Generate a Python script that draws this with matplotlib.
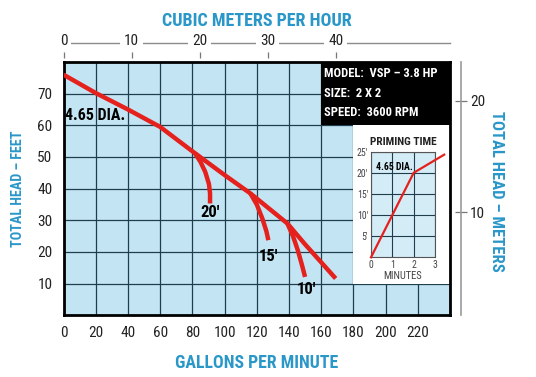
import matplotlib
matplotlib.use("Agg")
import matplotlib.pyplot as plt
from matplotlib.patches import Rectangle
from matplotlib.lines import Line2D

plt.rcParams['font.family'] = ['Liberation Sans Narrow', 'Roboto Condensed', 'Liberation Sans', 'DejaVu Sans']

# ---- data ----
gpm_ticks = [0, 20, 40, 60, 80, 100, 120, 140, 160, 180, 200, 220]
feet_ticks = [10, 20, 30, 40, 50, 60, 70]
cmh_ticks = [0, 10, 20, 30, 40]
meter_ticks = [10, 20]

main_gpm = [0, 20, 40, 60, 80, 100, 116, 139, 150, 169]
main_ft = [76, 70.2, 65, 59.5, 51.8, 44.3, 38.5, 29, 22.4, 11.6]

lift20_gpm = [81.7, 85, 88, 90.3, 91, 91]
lift20_ft = [51.1, 48.5, 45.3, 41.5, 38.5, 35.3]
lift15_gpm = [116, 120, 123.5, 126, 127.2]
lift15_ft = [38.5, 35, 30.5, 26.5, 23.7]
lift10_gpm = [139, 142.5, 145.5, 148, 150]
lift10_ft = [29, 25, 20.5, 16, 12.1]

lift_labels = ["20'", "15'", "10'"]
lift_label_gpm = [91, 127.2, 151]
lift_label_ft = [32.6, 18.5, 8]

prime_min = [0, 1, 2, 3.43]
prime_ft = [0, 10, 20, 24.3]
prime_xticks = [0, 1, 2, 3]
prime_yticks = [5, 10, 15, 20, 25]

spec_lines = ["MODEL:  VSP \u2013 3.8 HP", "SIZE:  2 X 2", "SPEED:  3600 RPM"]

# ---- style ----
BLUE = '#2a97c9'
BG = '#c3e4f2'
GRID = '#1f3d4c'
RED = '#e5211d'
W, H = 536, 377

fig = plt.figure(figsize=(W / 100, H / 100), dpi=100)
fig.patch.set_facecolor('white')

L, R, T, B = 63.5, 450, 62, 315.2
ax = fig.add_axes([L / W, 1 - B / H, (R - L) / W, (B - T) / H])
ax.set_facecolor(BG)
ax.set_xlim(0, 240)
ax.set_ylim(0, 80)
ax.set_xticks(gpm_ticks)
ax.set_xticklabels([str(v) for v in gpm_ticks])
ax.set_yticks(feet_ticks)
ax.set_yticklabels([str(v) for v in feet_ticks])
ax.set_xticks([240], minor=True)
ax.tick_params(axis='both', which='both', length=0, labelsize=11, colors='#222222')
ax.tick_params(axis='x', pad=8)
ax.tick_params(axis='y', pad=8)
ax.set_axisbelow(True)
ax.grid(True, which='both', color=GRID, lw=0.9)
for s in ax.spines.values():
    s.set_color('black')
    s.set_linewidth(2)

# boxes
ax.add_patch(Rectangle((160, 60), 80, 20, facecolor='black', edgecolor='none', zorder=1))
ax.add_patch(Rectangle((180, 10), 60, 50, facecolor='white', edgecolor='none', zorder=1))
for i, t in enumerate(spec_lines):
    ax.text(161.5, 76.4 - i * 6.2, t, color='white', fontsize=9, fontweight='bold',
            va='center', ha='left', zorder=4)

# curves
ax.plot(main_gpm, main_ft, color=RED, lw=3.2, solid_capstyle='butt', zorder=3)
for gx, fy in [(lift20_gpm, lift20_ft), (lift15_gpm, lift15_ft), (lift10_gpm, lift10_ft)]:
    ax.plot(gx, fy, color=RED, lw=3.2, solid_capstyle='butt', zorder=3)
for t, gx, fy in zip(lift_labels, lift_label_gpm, lift_label_ft):
    ax.text(gx, fy, t, fontsize=12, fontweight='bold', ha='center', va='center', zorder=4)
ax.text(1.2, 63.2, '4.65 DIA.', fontsize=11.5, fontweight='bold', ha='left', va='center', zorder=4)

# top axis (cubic meters per hour)
axt = ax.twiny()
axt.set_xlim(0, 56.8)
axt.set_xticks(cmh_ticks)
axt.set_xticklabels([str(v) for v in cmh_ticks])
for s in axt.spines.values():
    s.set_visible(False)
axt.spines['top'].set_position(('outward', 3))
axt.tick_params(axis='x', direction='out', length=4.5, width=0.9, color='#777777',
                labelsize=11, labelcolor='#222222', pad=2.5)
for lbl in axt.get_xticklabels():
    lbl.set_bbox(dict(facecolor='white', edgecolor='none', pad=3))
axt.add_line(Line2D([0, 1], [(B - 43) / (B - T)] * 2, transform=axt.transAxes,
                    clip_on=False, color='#8a8a8a', lw=1.0, zorder=1))

# right axis (meters)
axr = ax.twinx()
axr.set_ylim(0.8, 23.47)
axr.set_yticks(meter_ticks)
axr.set_yticklabels([str(v) for v in meter_ticks])
for k in ['left', 'top', 'bottom']:
    axr.spines[k].set_visible(False)
axr.spines['right'].set_position(('outward', 8))
axr.spines['right'].set_color('#9a9a9a')
axr.spines['right'].set_linewidth(1.2)
axr.tick_params(axis='y', direction='inout', length=9, width=0.9, color='#777777',
                labelsize=11, labelcolor='#222222', pad=2)

# axis titles
fig.text(257 / W, 1 - 21 / H, 'CUBIC METERS PER HOUR', color=BLUE, fontsize=13,
         fontweight='bold', ha='center', va='center')
fig.text(257 / W, 1 - 363 / H, 'GALLONS PER MINUTE', color=BLUE, fontsize=12.8,
         fontweight='bold', ha='center', va='center')
fig.text(18 / W, 1 - 189 / H, 'TOTAL HEAD \u2013 FEET', color=BLUE, fontsize=10.2,
         fontweight='bold', ha='center', va='center', rotation=90)
fig.text(497 / W, 1 - 191.5 / H, 'TOTAL HEAD \u2013 METERS', color=BLUE, fontsize=12,
         fontweight='bold', ha='center', va='center', rotation=-90)

# inset priming time
il, ir, it, ib = 371, 435, 151.7, 257.3
axi = fig.add_axes([il / W, 1 - ib / H, (ir - il) / W, (ib - it) / H])
axi.set_facecolor('#d3ecf6')
axi.set_xlim(0, 3)
axi.set_ylim(0, 25)
axi.set_xticks(prime_xticks)
axi.set_xticklabels([str(v) for v in prime_xticks])
axi.set_yticks(prime_yticks)
axi.set_yticklabels([f"{v}'" for v in prime_yticks])
axi.tick_params(axis='both', length=0, labelsize=7, colors='#444444', pad=2)
axi.grid(True, color=GRID, lw=0.8)
axi.set_axisbelow(True)
for s in axi.spines.values():
    s.set_color('#555555')
    s.set_linewidth(0.8)
axi.plot(prime_min, prime_ft, color=RED, lw=1.6, clip_on=False, zorder=3)
axi.text(0.22, 21.3, '4.65 DIA.', fontsize=7, fontweight='bold', ha='left', va='center',
         zorder=4)
axi.set_title('PRIMING TIME', fontsize=8.2, fontweight='bold', pad=5, color='#222222')
axi.set_xlabel('MINUTES', fontsize=7.6, color='#444444', labelpad=1)

fig.savefig('out.png', dpi=100)
